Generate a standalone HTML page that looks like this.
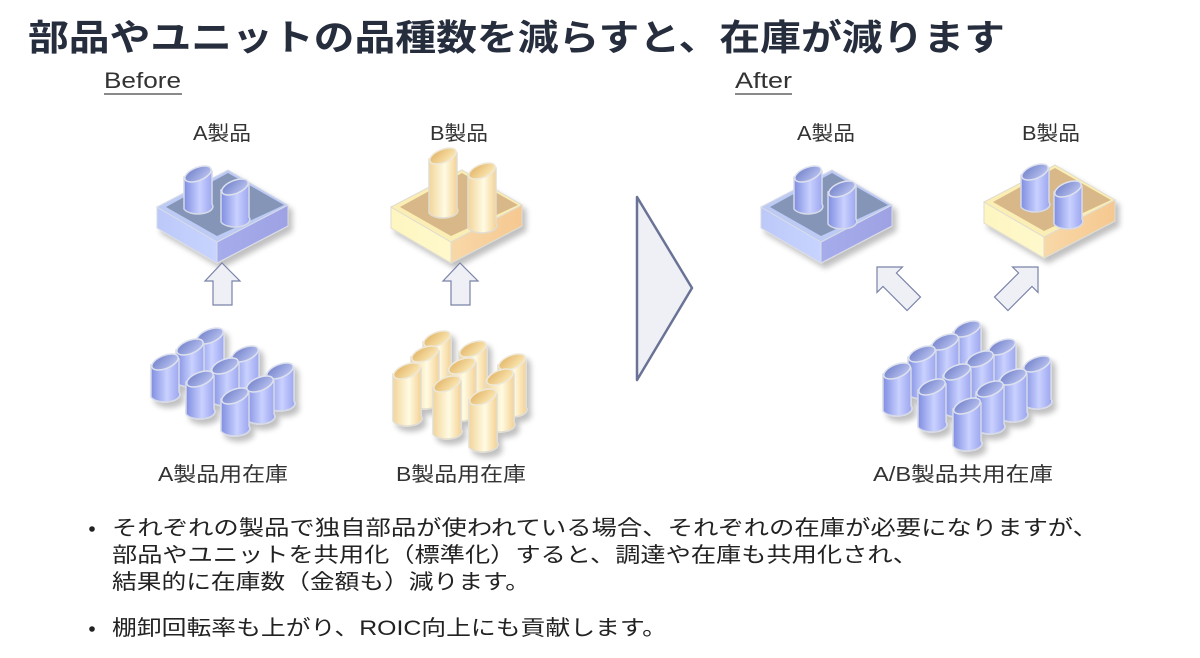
<!DOCTYPE html>
<html><head><meta charset="utf-8"><style>
html,body{margin:0;padding:0;background:#fff;}
svg{display:block;}
text{font-family:"Liberation Sans","Noto Sans CJK JP",sans-serif;}
</style></head><body>
<svg width="1200" height="658" viewBox="0 0 1200 658" xmlns="http://www.w3.org/2000/svg">
<defs>
<linearGradient id="gb" x1="0" x2="1" y1="0" y2="0"><stop offset="0" stop-color="#7f8de0"/><stop offset="0.55" stop-color="#c9d1ff"/><stop offset="1" stop-color="#9aa4ee"/></linearGradient>
<linearGradient id="gbt" x1="0" x2="1" y1="0" y2="1"><stop offset="0" stop-color="#6f7fc8"/><stop offset="1" stop-color="#c0c8f4"/></linearGradient>
<linearGradient id="gy" x1="0" x2="1" y1="0" y2="0"><stop offset="0" stop-color="#f2d49a"/><stop offset="0.55" stop-color="#fffbe2"/><stop offset="1" stop-color="#f3cf90"/></linearGradient>
<linearGradient id="gyt" x1="0" x2="1" y1="0" y2="1"><stop offset="0" stop-color="#e0b060"/><stop offset="1" stop-color="#fff0c0"/></linearGradient>
<linearGradient id="pbL" x1="0" x2="1"><stop offset="0" stop-color="#bcc8f8"/><stop offset="1" stop-color="#c8d4ff"/></linearGradient>
<linearGradient id="pbR" x1="0" x2="1"><stop offset="0" stop-color="#a6aceb"/><stop offset="1" stop-color="#9ea2e4"/></linearGradient>
<linearGradient id="pyL" x1="0" x2="1"><stop offset="0" stop-color="#fdf6c0"/><stop offset="1" stop-color="#fff8cc"/></linearGradient>
<linearGradient id="pyR" x1="0" x2="1"><stop offset="0" stop-color="#f8d8a8"/><stop offset="1" stop-color="#f6c890"/></linearGradient>
<filter id="sh" x="-30%" y="-30%" width="160%" height="160%"><feGaussianBlur in="SourceAlpha" stdDeviation="3"/><feOffset dx="4" dy="5"/><feComponentTransfer><feFuncA type="linear" slope="0.25"/></feComponentTransfer><feMerge><feMergeNode/><feMergeNode in="SourceGraphic"/></feMerge></filter>

<g id="cb40"><path d="M-14,9 L-14,41 A14,7 0 0 0 14,36 L14,3 Z" fill="url(#gb)" stroke="#d6dae8" stroke-width="1.5"/><ellipse cx="0" cy="6" rx="14" ry="6.5" transform="rotate(-22 0 6)" fill="url(#gbt)" stroke="#dde1ee" stroke-width="1.5"/></g>
<g id="cb45"><path d="M-14,9 L-14,46 A14,7 0 0 0 14,41 L14,3 Z" fill="url(#gb)" stroke="#d6dae8" stroke-width="1.5"/><ellipse cx="0" cy="6" rx="14" ry="6.5" transform="rotate(-22 0 6)" fill="url(#gbt)" stroke="#dde1ee" stroke-width="1.5"/></g>
<g id="cy55"><path d="M-14,9 L-14,56 A14,7 0 0 0 14,51 L14,3 Z" fill="url(#gy)" stroke="#e2ddd0" stroke-width="1.5"/><ellipse cx="0" cy="6" rx="14" ry="6.5" transform="rotate(-22 0 6)" fill="url(#gyt)" stroke="#eee8d8" stroke-width="1.5"/></g>
<g id="cy62"><path d="M-14,9 L-14,63 A14,7 0 0 0 14,58 L14,3 Z" fill="url(#gy)" stroke="#e2ddd0" stroke-width="1.5"/><ellipse cx="0" cy="6" rx="14" ry="6.5" transform="rotate(-22 0 6)" fill="url(#gyt)" stroke="#eee8d8" stroke-width="1.5"/></g>

<g id="platB" filter="url(#sh)">
<path d="M0,37 L60,72 L60,93 L0,58 Z" fill="url(#pbL)" stroke="#d8dce8"/>
<path d="M60,72 L131,35 L131,56 L60,93 Z" fill="url(#pbR)" stroke="#d8dce8"/>
<path d="M0,37 L71,0 L131,35 L60,72 Z" fill="#bccaf4" stroke="#d8dce8"/>
<path d="M9,37 L71,3 L127,35 L60,66 Z" fill="#8595b8"/>
</g>
<g id="platY" filter="url(#sh)">
<path d="M0,37 L60,72 L60,93 L0,58 Z" fill="url(#pyL)" stroke="#e0dccf"/>
<path d="M60,72 L131,35 L131,56 L60,93 Z" fill="url(#pyR)" stroke="#e0dccf"/>
<path d="M0,37 L71,0 L131,35 L60,72 Z" fill="#fbeeb4" stroke="#e0dccf"/>
<path d="M9,37 L71,3 L127,35 L60,66 Z" fill="#d8b888"/>
</g>
</defs>

<text x="28" y="50" font-size="36" font-weight="bold" fill="#262d3d" textLength="977" lengthAdjust="spacingAndGlyphs">部品やユニットの品種数を減らすと、在庫が減ります</text>
<text x="104" y="88" font-size="22" fill="#333" textLength="77" lengthAdjust="spacingAndGlyphs">Before</text>
<line x1="104" y1="94" x2="182" y2="94" stroke="#444" stroke-width="1.3"/>
<text x="735" y="88" font-size="22" fill="#333" textLength="57" lengthAdjust="spacingAndGlyphs">After</text>
<line x1="735" y1="94" x2="792" y2="94" stroke="#444" stroke-width="1.3"/>

<g font-size="20" fill="#333">
<text x="193" y="140" textLength="58" lengthAdjust="spacingAndGlyphs">A製品</text>
<text x="430" y="140" textLength="58" lengthAdjust="spacingAndGlyphs">B製品</text>
<text x="797" y="140" textLength="58" lengthAdjust="spacingAndGlyphs">A製品</text>
<text x="1022" y="140" textLength="58" lengthAdjust="spacingAndGlyphs">B製品</text>
<text x="158" y="481" textLength="130" lengthAdjust="spacingAndGlyphs">A製品用在庫</text>
<text x="396" y="481" textLength="130" lengthAdjust="spacingAndGlyphs">B製品用在庫</text>
<text x="873" y="481" textLength="180" lengthAdjust="spacingAndGlyphs">A/B製品共用在庫</text>
</g>

<use href="#platB" x="157" y="170"/>
<use href="#cb40" x="198" y="168"/>
<use href="#cb40" x="235" y="181"/>
<path d="M222,263 L240,281 L232,281 L232,305 L213,305 L213,281 L205,281 Z" fill="#eef0f6" stroke="#7a82a8" stroke-width="1.2"/>

<use href="#platY" x="391" y="170"/>
<use href="#cy62" x="443" y="150"/>
<use href="#cy62" x="482" y="165"/>
<path d="M460,263 L478,281 L470,281 L470,305 L451,305 L451,281 L443,281 Z" fill="#eef0f6" stroke="#7a82a8" stroke-width="1.2"/>

<g filter="url(#sh)">
<use href="#cb40" x="210" y="330"/>
<use href="#cb40" x="190" y="341"/>
<use href="#cb40" x="245" y="348"/>
<use href="#cb40" x="165" y="356"/>
<use href="#cb40" x="225" y="360"/>
<use href="#cb40" x="280" y="365"/>
<use href="#cb40" x="200" y="373"/>
<use href="#cb40" x="260" y="378"/>
<use href="#cb40" x="235" y="390"/>
</g>

<g filter="url(#sh)">
<use href="#cy55" x="437" y="333"/>
<use href="#cy55" x="473" y="343"/>
<use href="#cy55" x="425" y="348"/>
<use href="#cy55" x="512" y="356"/>
<use href="#cy55" x="462" y="360"/>
<use href="#cy55" x="407" y="365"/>
<use href="#cy55" x="500" y="371"/>
<use href="#cy55" x="447" y="378"/>
<use href="#cy55" x="483" y="391"/>
</g>

<path d="M637,197 L692,288 L637,380 Z" fill="#eef0f5" stroke="#6a7396" stroke-width="2.5" stroke-linejoin="round"/>

<use href="#platB" x="761" y="170"/>
<use href="#cb40" x="808" y="168"/>
<use href="#cb40" x="842" y="183"/>
<use href="#platY" x="984" y="165"/>
<use href="#cb40" x="1035" y="166"/>
<use href="#cb40" x="1068" y="183"/>

<g transform="translate(877,267) rotate(-45)">
<path d="M0,0 L18,18 L9.5,18 L9.5,52 L-9.5,52 L-9.5,18 L-18,18 Z" fill="#eef0f6" stroke="#7a82a8" stroke-width="1.2"/>
</g>
<g transform="translate(1038,267) rotate(45)">
<path d="M0,0 L18,18 L9.5,18 L9.5,52 L-9.5,52 L-9.5,18 L-18,18 Z" fill="#eef0f6" stroke="#7a82a8" stroke-width="1.2"/>
</g>

<g filter="url(#sh)">
<use href="#cb45" x="967" y="323"/>
<use href="#cb45" x="945" y="336"/>
<use href="#cb45" x="1002" y="341"/>
<use href="#cb45" x="922" y="348"/>
<use href="#cb45" x="980" y="353"/>
<use href="#cb45" x="1037" y="358"/>
<use href="#cb45" x="897" y="365"/>
<use href="#cb45" x="957" y="366"/>
<use href="#cb45" x="1013" y="371"/>
<use href="#cb45" x="932" y="381"/>
<use href="#cb45" x="990" y="383"/>
<use href="#cb45" x="967" y="400"/>
</g>

<g font-size="21" fill="#222">
<circle cx="92" cy="529" r="2.8" fill="#222"/>
<text x="112" y="535" textLength="986" lengthAdjust="spacingAndGlyphs">それぞれの製品で独自部品が使われている場合、それぞれの在庫が必要になりますが、</text>
<text x="112" y="562" textLength="806" lengthAdjust="spacingAndGlyphs">部品やユニットを共用化（標準化）すると、調達や在庫も共用化され、</text>
<text x="112" y="589" textLength="418" lengthAdjust="spacingAndGlyphs">結果的に在庫数（金額も）減ります。</text>
<circle cx="92" cy="629" r="2.8" fill="#222"/>
<text x="112" y="635" textLength="555" lengthAdjust="spacingAndGlyphs">棚卸回転率も上がり、ROIC向上にも貢献します。</text>
</g>
</svg>
</body></html>
